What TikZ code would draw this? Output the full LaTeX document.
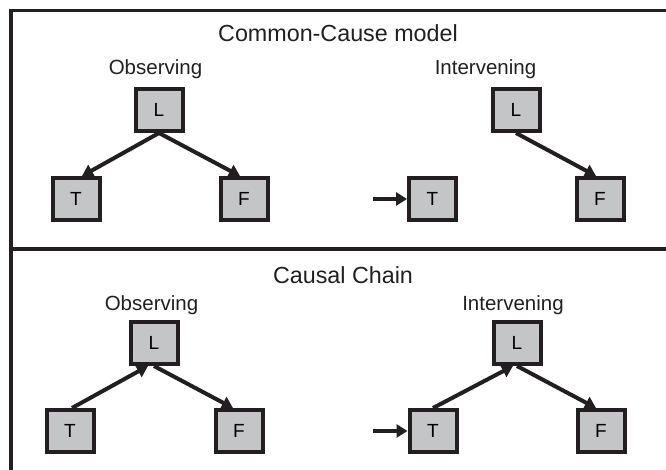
\documentclass[tikz,border=0pt]{standalone}
\usepackage{fontspec}
\setmainfont{Liberation Sans}
\usetikzlibrary{arrows.meta}
\definecolor{ink}{RGB}{35,31,32}
\definecolor{boxfill}{RGB}{196,197,199}
\tikzset{
  varbox/.style={draw=ink, line width=4pt, fill=boxfill, minimum width=47pt, minimum height=42pt, inner sep=0pt, font=\fontsize{19}{22}\selectfont},
  edge/.style={draw=ink, line width=4pt, -{Triangle[length=11pt,width=13pt]}},
  lbl/.style={anchor=base, font=\fontsize{20.5}{24}\selectfont, text=ink},
  ttl/.style={anchor=base, font=\fontsize{23.3}{27}\selectfont, text=ink},
  frame/.style={draw=ink, line width=3.5pt}
}
\begin{document}
\begin{tikzpicture}[x=1pt,y=-1pt]
\useasboundingbox (0,0) rectangle (666,470);
% frame
\draw[frame] (666,10.5) -- (11,10.5) -- (11,472);
\draw[frame] (11,249) -- (666,249);
% titles
\node[ttl] (t1) at (338,42) {Common-Cause model};
\node[ttl] (t2) at (343,283) {Causal Chain};
\node[lbl] (o1) at (155.5,75) {Observing};
\node[lbl] (i1) at (485.5,75) {Intervening};
\node[lbl] (o2) at (151.5,310) {Observing};
\node[lbl] (i2) at (513,310) {Intervening};
% top observing
\node[varbox] (L1) at (159,110) {L};
\node[varbox] (T1) at (76,199) {T};
\node[varbox] (F1) at (244,199) {F};
\draw[edge] (L1.south) -- ([xshift=6pt]T1.north);
\draw[edge] (L1.south) -- ([xshift=-4pt]F1.north);
% top intervening
\node[varbox] (L2) at (516,110) {L};
\node[varbox] (T2) at (432.5,199) {T};
\node[varbox] (F2) at (600,199) {F};
\coordinate (a2) at (373,199);
\draw[edge] (a2) -- (T2.west);
\draw[edge] (L2.south) -- ([xshift=-4pt]F2.north);
% bottom observing
\node[varbox] (L3) at (154,343) {L};
\node[varbox] (T3) at (70,431) {T};
\node[varbox] (F3) at (239,431) {F};
\draw[edge] ([xshift=2pt]T3.north) -- ([xshift=-6pt]L3.south);
\draw[edge] (L3.south) -- ([xshift=-6pt]F3.north);
% bottom intervening
\node[varbox] (L4) at (517,343) {L};
\node[varbox] (T4) at (433,431) {T};
\node[varbox] (F4) at (601,431) {F};
\coordinate (a4) at (373,431);
\draw[edge] (a4) -- (T4.west);
\draw[edge] (T4.north) -- ([xshift=-4pt]L4.south);
\draw[edge] (L4.south) -- ([xshift=-5pt]F4.north);
\end{tikzpicture}
\end{document}
